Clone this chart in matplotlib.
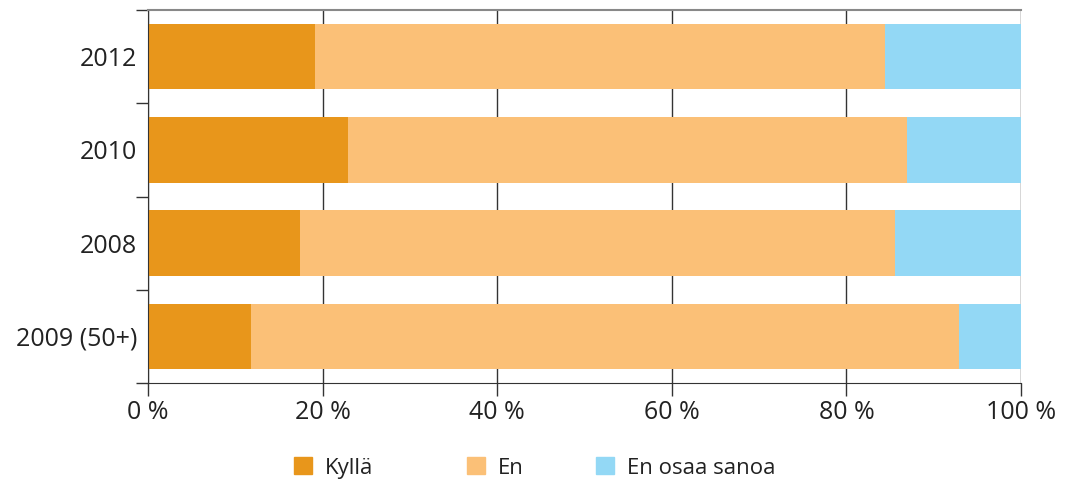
import matplotlib.pyplot as plt
from matplotlib.patches import Patch
from matplotlib.ticker import FixedLocator, FuncFormatter

plt.rcParams['font.family'] = ['Open Sans', 'DejaVu Sans']

categories = ["2012", "2010", "2008", "2009 (50+)"]
kylla = [19.1, 22.9, 17.4, 11.8]
en = [65.3, 64.0, 68.2, 81.1]
en_osaa = [15.6, 13.1, 14.4, 7.1]
labels = ["Kyllä", "En", "En osaa sanoa"]
colors = ["#E8961B", "#FBC077", "#93D8F5"]

fig = plt.figure(figsize=(10.65, 4.82), dpi=100)
ax = fig.add_axes([148 / 1065, 1 - 383 / 482, 873 / 1065, 373 / 482])

ypos = list(range(len(categories)))
left = [0] * len(categories)
for vals, lab, col in zip([kylla, en, en_osaa], labels, colors):
    ax.barh(ypos, vals, left=left, height=0.7, color=col, label=lab, zorder=2)
    left = [l + v for l, v in zip(left, vals)]

ax.set_xlim(0, 100)
ax.set_ylim(len(categories) - 0.5, -0.5)
ax.set_xticks([0, 20, 40, 60, 80, 100])
ax.xaxis.set_major_formatter(FuncFormatter(lambda v, p: f"{int(v)} %"))
ax.set_yticks(ypos)
ax.set_yticklabels(categories)
ax.yaxis.set_minor_locator(FixedLocator([-0.5, 0.5, 1.5, 2.5, 3.5]))
ax.tick_params(axis='y', which='major', length=0, pad=8, labelsize=18, labelcolor='#222222')
ax.tick_params(axis='y', which='minor', length=9, width=1, color='#333333')
ax.tick_params(axis='x', length=9, width=1, color='#333333', labelsize=18, labelcolor='#222222', pad=3)

ax.grid(axis='x', color='#333333', linewidth=1, zorder=1)
ax.set_axisbelow(True)
ax.spines['right'].set_visible(False)
ax.spines['top'].set_color('#888888')
ax.spines['top'].set_linewidth(1.5)
ax.spines['left'].set_color('#333333')
ax.spines['bottom'].set_color('#333333')

# legend entries placed one by one (uneven spacing in the original)
leg_x = [294, 467, 596]
for lab, col, x in zip(labels, colors, leg_x):
    leg = fig.legend([Patch(color=col)], [lab], loc='center left',
                     bbox_to_anchor=(x / 1065, 1 - 468 / 482), frameon=False,
                     fontsize=16, handlelength=0.8, handleheight=0.8,
                     handletextpad=0.6, borderpad=0, borderaxespad=0,
                     labelcolor='#222222')

fig.savefig("out.png", dpi=100)
